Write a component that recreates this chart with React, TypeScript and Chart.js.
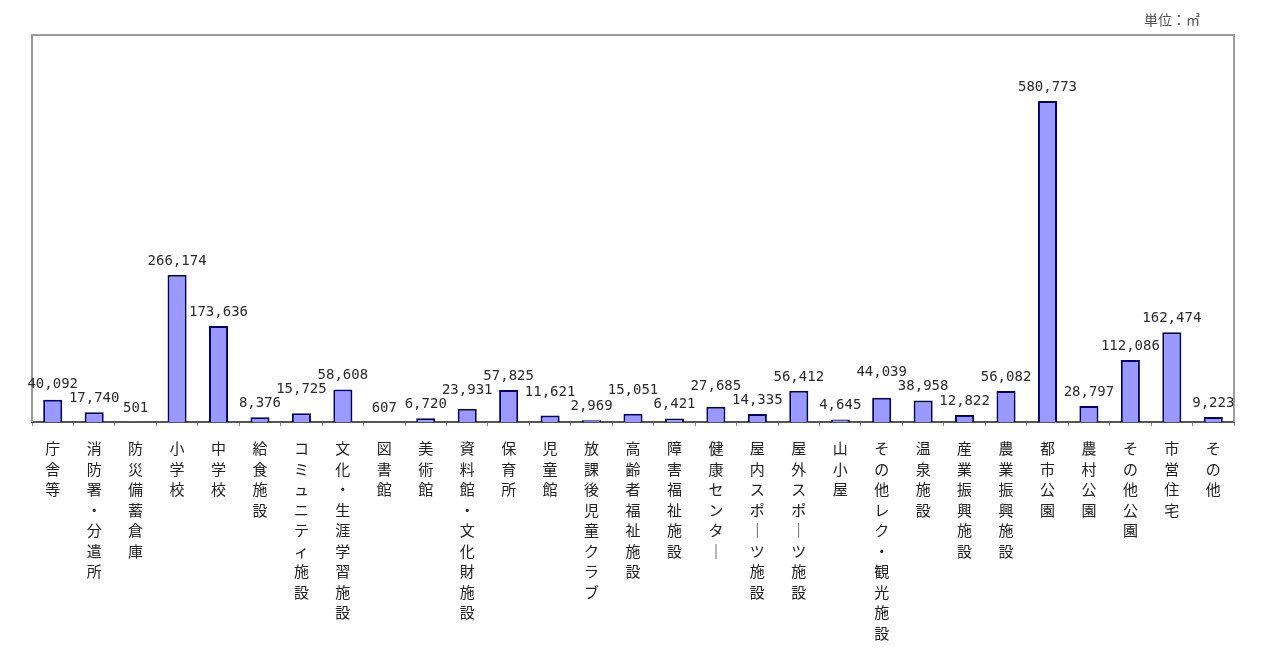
import React, { useEffect, useRef } from "react";
import { Chart, registerables } from "chart.js";

Chart.register(...registerables);

const categories: string[] = [
  "庁舎等",
  "消防署・分遣所",
  "防災備蓄倉庫",
  "小学校",
  "中学校",
  "給食施設",
  "コミュニティ施設",
  "文化・生涯学習施設",
  "図書館",
  "美術館",
  "資料館・文化財施設",
  "保育所",
  "児童館",
  "放課後児童クラブ",
  "高齢者福祉施設",
  "障害福祉施設",
  "健康センター",
  "屋内スポーツ施設",
  "屋外スポーツ施設",
  "山小屋",
  "その他レク・観光施設",
  "温泉施設",
  "産業振興施設",
  "農業振興施設",
  "都市公園",
  "農村公園",
  "その他公園",
  "市営住宅",
  "その他",
];

const values: number[] = [
  40092, 17740, 501, 266174, 173636, 8376, 15725, 58608, 607, 6720, 23931,
  57825, 11621, 2969, 15051, 6421, 27685, 14335, 56412, 4645, 44039, 38958,
  12822, 56082, 580773, 28797, 112086, 162474, 9223,
];

const unitLabel = "単位：㎡";
const yMin = 0;
const yMax = 700000;

const W = 1273;
const H = 650;

const frameAndLabelsPlugin = {
  id: "frameAndLabels",
  beforeDatasetsDraw(chart: any) {
    const { ctx, chartArea } = chart;
    const { left, right, top, bottom } = chartArea;
    ctx.save();
    ctx.strokeStyle = "#9a9a9a";
    ctx.lineWidth = 2;
    ctx.beginPath();
    ctx.moveTo(left, bottom);
    ctx.lineTo(left, top);
    ctx.lineTo(right, top);
    ctx.lineTo(right, bottom);
    ctx.stroke();
    ctx.restore();
  },
  afterDatasetsDraw(chart: any) {
    const { ctx } = chart;
    const meta = chart.getDatasetMeta(0);
    ctx.save();
    ctx.font = '14px "DejaVu Sans Mono"';
    const h = 12;
    const boxes = meta.data.map((bar: any, i: number) => {
      const text = values[i].toLocaleString("en-US");
      const w = ctx.measureText(text).width;
      return { text, x: bar.x, w, bottom: bar.y - 10 };
    });
    for (let pass = 0; pass < 3; pass++) {
      for (let i = 1; i < boxes.length; i++) {
        const a = boxes[i - 1];
        const b = boxes[i];
        const hOverlap = Math.abs(a.x - b.x) < (a.w + b.w) / 2 + 1;
        const vOverlap = Math.abs(a.bottom - b.bottom) < h + 2;
        if (hOverlap && vOverlap) {
          if (a.bottom <= b.bottom) a.bottom = b.bottom - h - 2;
          else b.bottom = a.bottom - h - 2;
        }
      }
    }
    ctx.fillStyle = "#2a2a2a";
    ctx.textAlign = "center";
    ctx.textBaseline = "alphabetic";
    boxes.forEach((b: any) => ctx.fillText(b.text, b.x, b.bottom));

    ctx.font = '14px "Noto Sans CJK JP"';
    ctx.fillStyle = "#555555";
    ctx.textAlign = "right";
    ctx.textBaseline = "middle";
    ctx.fillText(unitLabel, 1200, 20);
    ctx.restore();
  },
};

export default function App() {
  const canvasRef = useRef<HTMLCanvasElement | null>(null);

  useEffect(() => {
    if (!canvasRef.current) return;
    const chart = new Chart(canvasRef.current, {
      type: "bar",
      data: {
        labels: categories,
        datasets: [
          {
            data: values,
            backgroundColor: "#9999ff",
            borderColor: "#000066",
            borderWidth: 2,
            barPercentage: 0.46,
            categoryPercentage: 1,
          },
        ],
      },
      options: {
        responsive: false,
        animation: false,
        layout: { padding: { left: 32, right: 39, top: 35, bottom: 0 } },
        plugins: {
          legend: { display: false },
          tooltip: { enabled: false },
        },
        scales: {
          x: {
            offset: true,
            afterFit: (scale: any) => {
              scale.height = H - 422;
            },
            border: { display: true, color: "#555555", width: 2 },
            grid: {
              display: true,
              offset: true,
              drawOnChartArea: false,
              drawTicks: true,
              tickLength: 4,
              color: "#888888",
            },
            ticks: {
              autoSkip: false,
              maxRotation: 0,
              minRotation: 0,
              padding: 12,
              color: "#222222",
              font: { family: '"Noto Sans CJK JP"', size: 15, lineHeight: 1.37 },
              callback: (_v: any, i: number) =>
                Array.from(categories[i]).map((c) => (c === "ー" ? "｜" : c)),
            },
          },
          y: {
            display: false,
            min: yMin,
            max: yMax,
          },
        },
      },
      plugins: [frameAndLabelsPlugin],
    });
    return () => chart.destroy();
  }, []);

  return (
    <div style={{ position: "absolute", left: 0, top: 0, width: W, height: H, background: "#fff" }}>
      <canvas ref={canvasRef} width={W} height={H} style={{ width: W, height: H, display: "block" }} />
    </div>
  );
}
